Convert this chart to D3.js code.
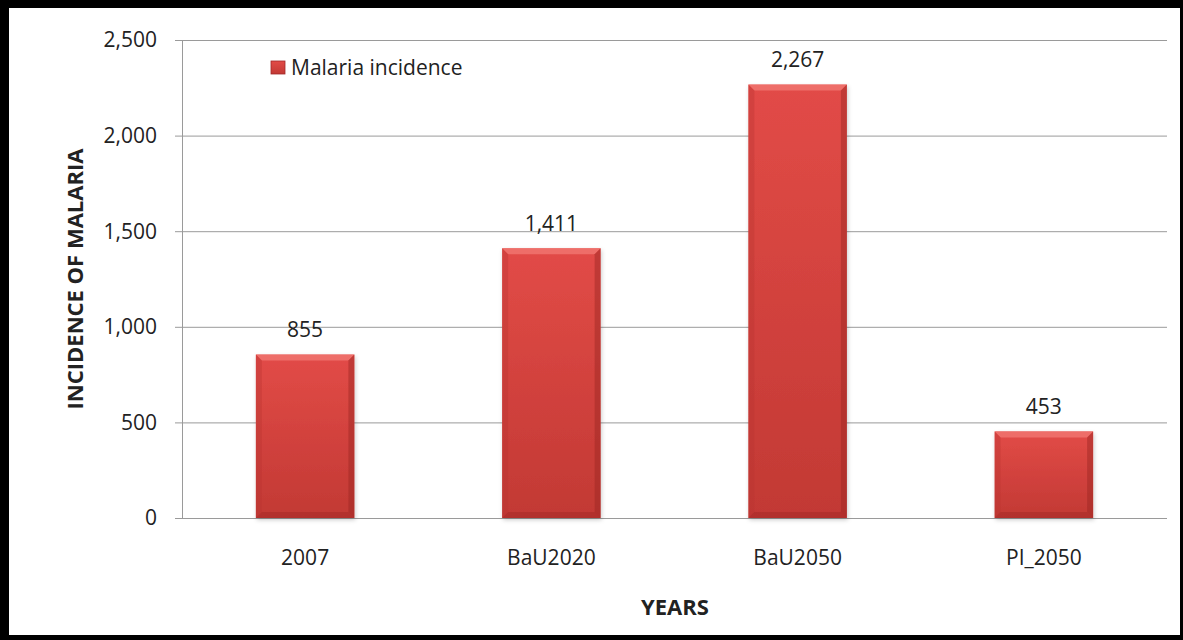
<html>
<head>
<style>
  body { margin: 0; background: #fff; }
  text { font-family: "Open Sans", "Liberation Sans", sans-serif; fill: #222; }
</style>
</head>
<body>
<svg id="chart" width="1183" height="640"></svg>
<script src="https://d3js.org/d3.v7.min.js"></script>
<script>
  // data
  let categories = ["2007", "BaU2020", "BaU2050", "PI_2050"]
  let values = [855, 1411, 2267, 453]
  let yTicks = [0, 500, 1000, 1500, 2000, 2500]
  let seriesName = "Malaria incidence"

  let svg = d3.select("#chart")
  let plotLeft = 182, plotRight = 1167, plotTop = 40, plotBottom = 518

  // black frame around a white card
  svg.append("rect").attr("width", 1183).attr("height", 640).attr("fill", "#000")
  svg.append("rect").attr("x", 9).attr("y", 8)
    .attr("width", 1180 - 9).attr("height", 635 - 8).attr("fill", "#fff")

  let defs = svg.append("defs")
  let grad = defs.append("linearGradient").attr("id", "barFill")
    .attr("x1", 0).attr("y1", 0).attr("x2", 0).attr("y2", 1)
  grad.append("stop").attr("offset", "0%").attr("stop-color", "#e24b47")
  grad.append("stop").attr("offset", "100%").attr("stop-color", "#c23934")
  let shadow = defs.append("filter").attr("id", "shadow")
    .attr("x", "-10%").attr("y", "-10%").attr("width", "130%").attr("height", "130%")
  shadow.append("feDropShadow").attr("dx", 1).attr("dy", 2).attr("stdDeviation", 2)
    .attr("flood-color", "#000").attr("flood-opacity", 0.2)

  let x = d3.scaleBand().domain(categories).range([plotLeft, plotRight]).paddingInner(0.6).paddingOuter(0.3)
  let y = d3.scaleLinear().domain([0, 2500]).range([plotBottom, plotTop])

  // gridlines
  svg.append("g").selectAll("line").data(yTicks).enter().append("line")
    .attr("x1", plotLeft - 7).attr("x2", plotRight)
    .attr("y1", d => y(d) + 0.5).attr("y2", d => y(d) + 0.5)
    .attr("stroke", "#9a9a9a").attr("stroke-width", 1)

  // y axis line
  svg.append("line").attr("x1", plotLeft + 0.5).attr("x2", plotLeft + 0.5)
    .attr("y1", plotTop).attr("y2", plotBottom)
    .attr("stroke", "#9a9a9a")

  // y tick labels
  svg.append("g").selectAll("text").data(yTicks).enter().append("text")
    .attr("x", plotLeft - 25).attr("y", d => y(d))
    .attr("dy", "0.35em").attr("text-anchor", "end")
    .style("font-size", "21px")
    .text(d => d3.format(",")(d))

  // bars
  let bars = svg.append("g").selectAll("g").data(values).enter().append("g")
  bars.append("rect")
    .attr("x", (d, i) => x(categories[i]))
    .attr("y", d => y(d))
    .attr("width", x.bandwidth())
    .attr("height", d => y(0) - y(d))
    .attr("fill", "url(#barFill)")
    .attr("filter", "url(#shadow)")
  // bevel edges
  let bev = 6
  bars.append("path")
    .attr("d", (d, i) => {
      let x0 = x(categories[i]), x1 = x0 + x.bandwidth(), y0 = y(d)
      return `M${x0},${y0}L${x1},${y0}L${x1 - bev},${y0 + bev}L${x0 + bev},${y0 + bev}Z`
    })
    .attr("fill", "#f47d78").attr("opacity", 0.7)
  bars.append("path")
    .attr("d", (d, i) => {
      let x0 = x(categories[i]), y0 = y(d), y1 = y(0)
      return `M${x0},${y0}L${x0 + bev},${y0 + bev}L${x0 + bev},${y1 - bev}L${x0},${y1}Z`
    })
    .attr("fill", "#b83530").attr("opacity", 0.35)
  bars.append("path")
    .attr("d", (d, i) => {
      let x1 = x(categories[i]) + x.bandwidth(), y0 = y(d), y1 = y(0)
      return `M${x1},${y0}L${x1 - bev},${y0 + bev}L${x1 - bev},${y1 - bev}L${x1},${y1}Z`
    })
    .attr("fill", "#9a2622").attr("opacity", 0.45)
  bars.append("path")
    .attr("d", (d, i) => {
      let x0 = x(categories[i]), x1 = x0 + x.bandwidth(), y1 = y(0)
      return `M${x0},${y1}L${x0 + bev},${y1 - bev}L${x1 - bev},${y1 - bev}L${x1},${y1}Z`
    })
    .attr("fill", "#9a2622").attr("opacity", 0.4)

  // value labels
  bars.append("text")
    .attr("x", (d, i) => x(categories[i]) + x.bandwidth() / 2)
    .attr("y", d => y(d) - 25)
    .attr("text-anchor", "middle").attr("dy", "0.35em")
    .style("font-size", "21px")
    .text(d => d3.format(",")(d))

  // category labels
  svg.append("g").selectAll("text").data(categories).enter().append("text")
    .attr("x", d => x(d) + x.bandwidth() / 2)
    .attr("y", plotBottom + 40)
    .attr("dy", "0.35em").attr("text-anchor", "middle")
    .style("font-size", "21px")
    .text(d => d)

  // axis titles
  svg.append("text")
    .attr("transform", `translate(75,${(plotTop + plotBottom) / 2}) rotate(-90)`)
    .attr("text-anchor", "middle").attr("dy", "0.35em")
    .style("font-size", "22px").style("font-weight", "bold")
    .text("INCIDENCE OF MALARIA")
  svg.append("text")
    .attr("x", 675).attr("y", 607)
    .attr("text-anchor", "middle").attr("dy", "0.35em")
    .style("font-size", "22px").style("font-weight", "bold")
    .text("YEARS")

  // legend
  let lg = svg.append("g").attr("transform", "translate(271,61)")
  lg.append("rect").attr("width", 14).attr("height", 13)
    .attr("fill", "url(#barFill)").attr("stroke", "#a02828").attr("stroke-width", 0.8)
  lg.append("text").attr("x", 20).attr("y", 7).attr("dy", "0.35em")
    .style("font-size", "21px")
    .text(seriesName)
</script>
</body>
</html>
